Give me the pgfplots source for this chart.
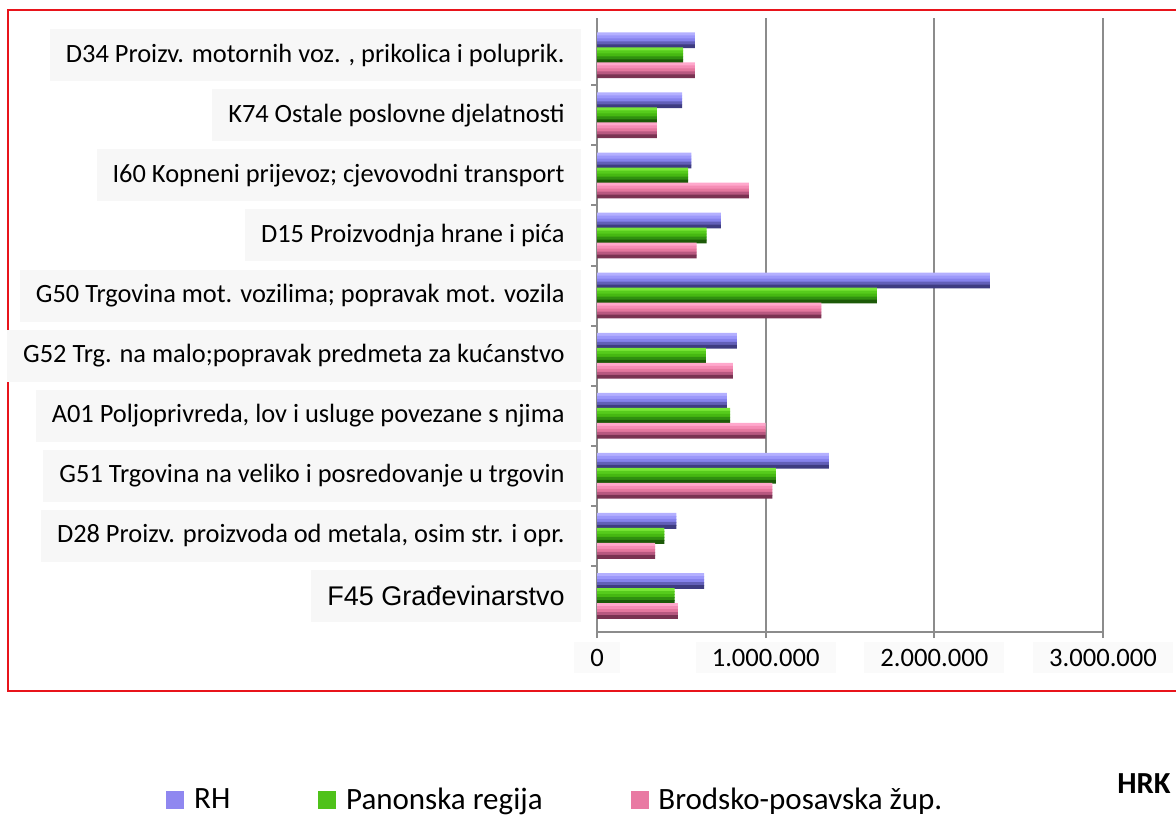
\documentclass[border=0pt]{standalone}
\usepackage{pgfplots}
\pgfplotsset{compat=1.18}
\usepackage{fontspec}
\setmainfont{Carlito}
\newfontfamily\arialf{Liberation Sans}
\definecolor{axgray}{HTML}{8C8C8C}
\definecolor{rhA}{HTML}{B4B0FF}
\definecolor{rhB}{HTML}{9C98FA}
\definecolor{rhC}{HTML}{8682EC}
\definecolor{rhD}{HTML}{625FB8}
\definecolor{rhE}{HTML}{3E3C80}
\definecolor{paA}{HTML}{78E636}
\definecolor{paB}{HTML}{56CC1C}
\definecolor{paC}{HTML}{46B812}
\definecolor{paD}{HTML}{309010}
\definecolor{paE}{HTML}{1C5A08}
\definecolor{brA}{HTML}{FFA8CC}
\definecolor{brB}{HTML}{F58CB5}
\definecolor{brC}{HTML}{E4779E}
\definecolor{brD}{HTML}{B85880}
\definecolor{brE}{HTML}{7A3352}
\definecolor{rhL}{HTML}{8F87F0}
\definecolor{paL}{HTML}{4FC21A}
\definecolor{brL}{HTML}{E97AA3}
\definecolor{frame}{HTML}{E8141B}

\pgfplotstableread{
idx rh pan brod
0 635000 460000 480000
1 470000 400000 345000
2 1375000 1060000 1040000
3 770000 790000 1000000
4 830000 645000 805000
5 2330000 1660000 1330000
6 735000 650000 590000
7 560000 540000 900000
8 505000 355000 355000
9 580000 510000 580000
}\datatable

\begin{document}
\begin{tikzpicture}
\path[use as bounding box] (0,0) rectangle (588pt,408pt);
\draw[frame, line width=1pt] (4pt,62.5pt) rectangle (592pt,403pt);
\begin{axis}[
  at={(298.5pt,92pt)}, anchor=south west,
  scale only axis, width=253pt, height=307pt,
  xbar, bar width=1.9pt,
  xmin=0, xmax=3000000, ymin=-0.6, ymax=9.62,
  axis lines=left,
  axis line style={-, draw=axgray, line width=1pt},
  xtick={0,1000000,2000000,3000000},
  xticklabels={0,1.000.000,2.000.000,3.000.000},
  scaled x ticks=false,
  xmajorgrids, grid style={draw=axgray, line width=1pt},
  tick align=outside,
  major tick length=3pt, minor tick length=3pt,
  xtick style={draw=axgray, line width=1pt},
  ytick={0,...,9},
  ytick style={draw=none},
  minor ytick={0.5,1.5,...,8.5},
  minor y tick style={draw=axgray, line width=1pt},
  yticklabels={
    {{\arialf\fontsize{13.5}{16}\selectfont F45 Građevinarstvo}},
    {D28 Proizv. proizvoda od metala, osim str. i opr.},
    {G51 Trgovina na veliko i posredovanje u trgovin},
    {A01 Poljoprivreda, lov i usluge povezane s njima},
    {G52 Trg. na malo;popravak predmeta za kućanstvo},
    {G50 Trgovina mot. vozilima; popravak mot. vozila},
    {D15 Proizvodnja hrane i pića},
    {I60 Kopneni prijevoz; cjevovodni transport},
    {K74 Ostale poslovne djelatnosti},
    {D34 Proizv. motornih voz. , prikolica i poluprik.}
  },
  yticklabel style={font=\fontsize{13.2}{15}\selectfont, fill=black!3, inner xsep=8pt, minimum height=26pt, anchor=east, xshift=-5pt},
  xticklabel style={font=\fontsize{13.3}{15}\selectfont, fill=black!2, inner xsep=8pt, yshift=-2pt},
  legend style={at={(-0.8518,-0.2736)}, anchor=west, draw=none, fill=none, inner sep=0pt,
    font=\fontsize{15.5}{18}\selectfont, legend columns=3,
    /tikz/every odd column/.append style={column sep=3pt},
    /tikz/every even column/.append style={column sep=42pt}},
  legend cell align=left,
]
% RH (centre +7.5pt)
\addplot[forget plot, draw=none, fill=rhA, bar shift=10.5pt] table[x=rh, y=idx] {\datatable};
\addplot[forget plot, draw=none, fill=rhB, bar shift=9pt]    table[x=rh, y=idx] {\datatable};
\addplot[forget plot, draw=none, fill=rhC, bar shift=7.5pt]  table[x=rh, y=idx] {\datatable};
\addplot[forget plot, draw=none, fill=rhD, bar shift=6pt]    table[x=rh, y=idx] {\datatable};
\addplot[forget plot, draw=none, fill=rhE, bar shift=4.5pt]  table[x=rh, y=idx] {\datatable};
% Panonska (centre 0)
\addplot[forget plot, draw=none, fill=paA, bar shift=3pt]    table[x=pan, y=idx] {\datatable};
\addplot[forget plot, draw=none, fill=paB, bar shift=1.5pt]  table[x=pan, y=idx] {\datatable};
\addplot[forget plot, draw=none, fill=paC, bar shift=0pt]    table[x=pan, y=idx] {\datatable};
\addplot[forget plot, draw=none, fill=paD, bar shift=-1.5pt] table[x=pan, y=idx] {\datatable};
\addplot[forget plot, draw=none, fill=paE, bar shift=-3pt]   table[x=pan, y=idx] {\datatable};
% Brodsko (centre -7.5pt)
\addplot[forget plot, draw=none, fill=brA, bar shift=-4.5pt] table[x=brod, y=idx] {\datatable};
\addplot[forget plot, draw=none, fill=brB, bar shift=-6pt]   table[x=brod, y=idx] {\datatable};
\addplot[forget plot, draw=none, fill=brC, bar shift=-7.5pt] table[x=brod, y=idx] {\datatable};
\addplot[forget plot, draw=none, fill=brD, bar shift=-9pt]   table[x=brod, y=idx] {\datatable};
\addplot[forget plot, draw=none, fill=brE, bar shift=-10.5pt] table[x=brod, y=idx] {\datatable};
\addlegendimage{legend image code/.code={\fill[rhL] (0pt,-4.25pt) rectangle (8.5pt,4.25pt);}}
\addlegendimage{legend image code/.code={\fill[paL] (0pt,-4.25pt) rectangle (8.5pt,4.25pt);}}
\addlegendimage{legend image code/.code={\fill[brL] (0pt,-4.25pt) rectangle (8.5pt,4.25pt);}}
\legend{RH, Panonska regija, Brodsko-posavska žup.}
\end{axis}
\node[anchor=base west, inner sep=0pt, font=\bfseries\fontsize{15.3}{18}\selectfont] at (558.5pt,11.5pt) {HRK};
\end{tikzpicture}
\end{document}
